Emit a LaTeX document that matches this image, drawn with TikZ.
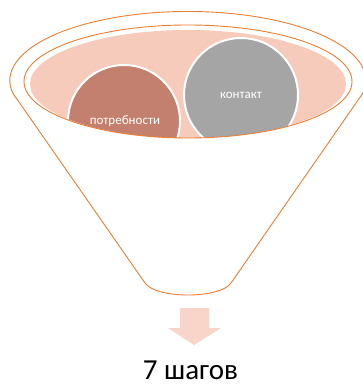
\documentclass[tikz,border=0pt]{standalone}
\usepackage{fontspec}
\setmainfont{Carlito}
\definecolor{funorange}{HTML}{ED7D31}
\definecolor{funpink}{HTML}{F6CBBC}
\definecolor{circred}{HTML}{C4806E}
\definecolor{circgray}{HTML}{A5A5A5}
\definecolor{arrpink}{HTML}{F8D5C8}
\tikzset{
  funline/.style={draw=funorange, line width=0.9pt},
  bubble/.style={circle, draw=white, line width=2pt, inner sep=0pt},
  bubtext/.style={text=white, font=\fontsize{13}{15}\selectfont},
}
\begin{document}
\begin{tikzpicture}[x=1pt,y=-1pt]
\useasboundingbox (0,0) rectangle (363,385);
% outer funnel
\draw[funline, line join=round] (231,283) -- (362.6,93.5)
  arc[start angle=10.9, end angle=-190.9, x radius=178, y radius=69]
  -- (145,283) .. controls (156,299) and (220,299) .. (231,283);
% pink fill
\fill[funpink] (188,84) ellipse[x radius=158, y radius=54];
\begin{scope}
  \clip (188,84) ellipse[x radius=158, y radius=54];
  \node[bubble, fill=circred, minimum size=112pt] (need) at (124,121) {};
  \node[bubble, fill=circgray, minimum size=114pt] (cont) at (241,95) {};
\end{scope}
\node[bubtext] (needt) at (125,121.5) {потребности};
\node[bubtext] (contt) at (241,95) {контакт};
% inner ellipse outline
\draw[funline] (188,81.5) ellipse[x radius=164, y radius=56.5];
% arrow
\fill[arrpink] (180,308) -- (209,308) -- (209,328) -- (221,328) -- (194,345) -- (168,328) -- (180,328) -- cycle;
\node[anchor=base, font=\fontsize{29}{34}\selectfont, inner sep=0pt] (steps) at (190.5,379.5) {7 шагов};
\end{tikzpicture}
\end{document}
